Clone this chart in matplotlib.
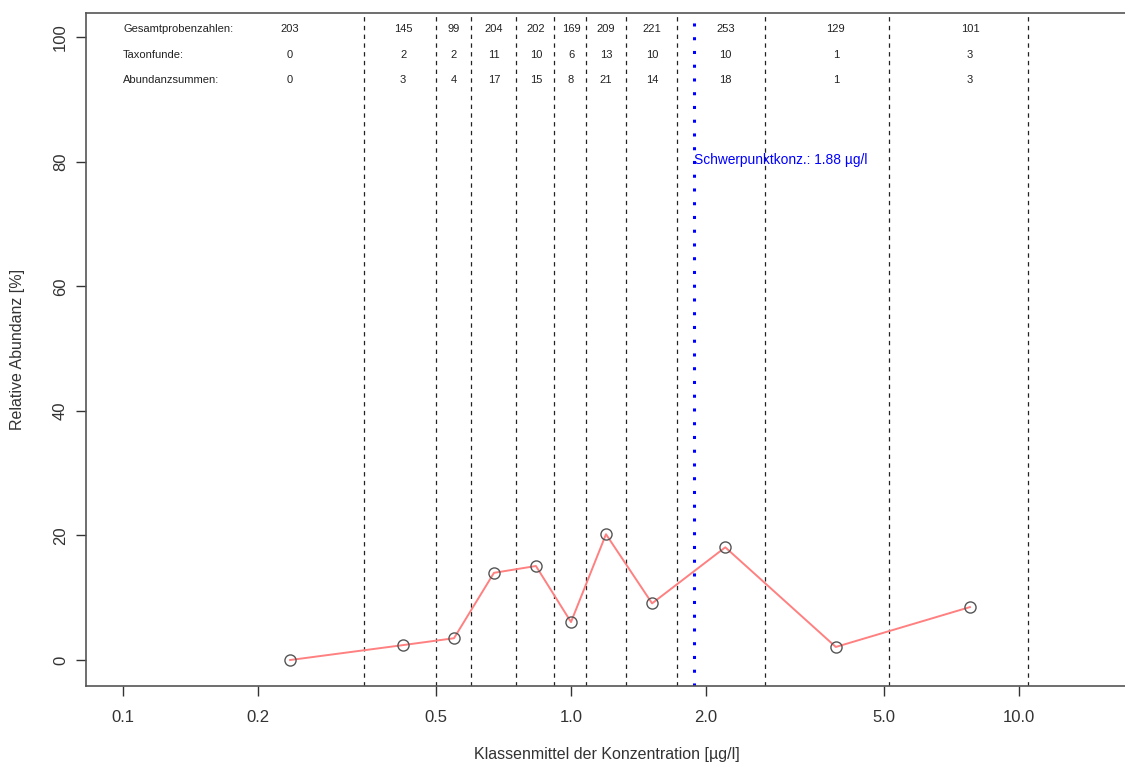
import numpy as np
import matplotlib
matplotlib.use("Agg")
import matplotlib.pyplot as plt

plt.rcParams['font.family'] = ['Liberation Sans', 'DejaVu Sans']

# class means (x), relative abundance (y)
klassenmittel = [0.236, 0.422, 0.548, 0.673, 0.835, 1.0, 1.197, 1.517, 2.21, 3.90, 7.77]
rel_abundanz = [0.0, 2.4, 3.5, 14.0, 15.1, 6.1, 20.2, 9.1, 18.1, 2.1, 8.5]
# class boundaries
grenzen = [0.345, 0.50, 0.598, 0.753, 0.916, 1.08, 1.327, 1.72, 2.71, 5.13, 10.5]
schwerpunkt = 1.88

gesamtproben = [203, 145, 99, 204, 202, 169, 209, 221, 253, 129, 101]
taxonfunde = [0, 2, 2, 11, 10, 6, 13, 10, 10, 1, 3]
abundanzsummen = [0, 3, 4, 17, 15, 8, 21, 14, 18, 1, 3]
zeilen = ['Gesamtprobenzahlen:', 'Taxonfunde:', 'Abundanzsummen:']

xticks = [0.1, 0.2, 0.5, 1.0, 2.0, 5.0, 10.0]
yticks = [0, 20, 40, 60, 80, 100]

W, H = 1125, 767
fig = plt.figure(figsize=(W / 100, H / 100), dpi=100)
ax = fig.add_axes([86 / W, (H - 686) / H, (1128 - 86) / W, (686 - 13) / H])

ax.set_xscale('log')
ax.set_xlim(10 ** -1.0826, 10 ** 1.2433)
ax.set_ylim(-4.17, 103.9)

for g in grenzen:
    ax.axvline(g, color='#222222', linestyle=(0, (3.5, 3.5)), linewidth=0.9)
ax.axvline(schwerpunkt, color='blue', linestyle=(0, (1, 3.5)), linewidth=2.2)
ax.text(schwerpunkt, 80.3, 'Schwerpunktkonz.: %.2f µg/l' % schwerpunkt, color='blue',
        fontsize=9.9, ha='left', va='center')

ax.plot(klassenmittel, rel_abundanz, color='#ff8080', linewidth=1.4, zorder=3)
ax.plot(klassenmittel, rel_abundanz, 'o', markerfacecolor='none', markeredgecolor='#555555',
        markersize=8, markeredgewidth=1.0, zorder=4)

# table rows at the top
row_y = [101.3, 97.1, 93.1]
for label, yy, vals in zip(zeilen, row_y, [gesamtproben, taxonfunde, abundanzsummen]):
    ax.text(0.1, yy, label, fontsize=8, ha='left', va='center', color='#222222')
    for xv, v in zip(klassenmittel, vals):
        ax.text(xv, yy, str(v), fontsize=8, ha='center', va='center', color='#222222')

ax.set_xticks(xticks)
ax.set_xticklabels(['%.1f' % t for t in xticks])
ax.xaxis.set_minor_locator(matplotlib.ticker.NullLocator())
ax.set_yticks(yticks)
ax.set_yticklabels([str(t) for t in yticks], rotation=90, va='center')
ax.tick_params(axis='both', direction='out', length=7, width=1, colors='#333333',
               labelsize=12, labelcolor='#333333')
ax.tick_params(axis='x', pad=10)
ax.tick_params(axis='y', pad=6)

for s in ['left', 'bottom', 'top']:
    ax.spines[s].set_color('#555555')
    ax.spines[s].set_linewidth(1.2)
ax.spines['right'].set_visible(False)

ax.set_xlabel('Klassenmittel der Konzentration [µg/l]', fontsize=11.5, color='#333333', labelpad=16)
ax.set_ylabel('Relative Abundanz [%]', fontsize=11.5, color='#333333', labelpad=20)

fig.savefig('out.png', dpi=100)
